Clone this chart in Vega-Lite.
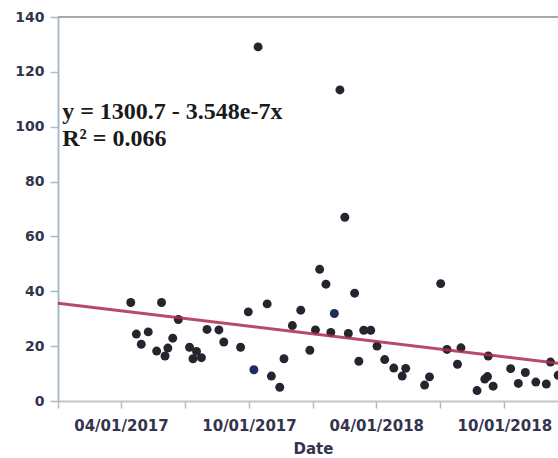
{
  "$schema": "https://vega.github.io/schema/vega-lite/v6.json",
  "width": 510,
  "height": 384,
  "autosize": "none",
  "padding": {"left": 58, "top": 17, "right": 0, "bottom": 57},
  "background": "white",
  "config": {
    "view": {"stroke": null},
    "axis": {"grid": false}
  },
  "datasets": {
    "points": [
      {"date": "2017-04-15", "value": 35.9, "group": "A"},
      {"date": "2017-04-23", "value": 24.4, "group": "A"},
      {"date": "2017-04-30", "value": 20.7, "group": "A"},
      {"date": "2017-05-10", "value": 25.2, "group": "A"},
      {"date": "2017-05-22", "value": 18.2, "group": "A"},
      {"date": "2017-05-29", "value": 35.9, "group": "A"},
      {"date": "2017-06-03", "value": 16.4, "group": "A"},
      {"date": "2017-06-07", "value": 19.3, "group": "A"},
      {"date": "2017-06-14", "value": 22.9, "group": "A"},
      {"date": "2017-06-22", "value": 29.7, "group": "A"},
      {"date": "2017-07-08", "value": 19.6, "group": "A"},
      {"date": "2017-07-13", "value": 15.4, "group": "A"},
      {"date": "2017-07-18", "value": 18.1, "group": "A"},
      {"date": "2017-07-25", "value": 15.8, "group": "A"},
      {"date": "2017-08-02", "value": 26.1, "group": "A"},
      {"date": "2017-08-19", "value": 25.9, "group": "A"},
      {"date": "2017-08-26", "value": 21.5, "group": "A"},
      {"date": "2017-09-19", "value": 19.6, "group": "A"},
      {"date": "2017-09-30", "value": 32.5, "group": "A"},
      {"date": "2017-10-08", "value": 11.4, "group": "B"},
      {"date": "2017-10-14", "value": 129.1, "group": "A"},
      {"date": "2017-10-27", "value": 35.4, "group": "A"},
      {"date": "2017-11-02", "value": 9.1, "group": "A"},
      {"date": "2017-11-14", "value": 5.0, "group": "A"},
      {"date": "2017-11-20", "value": 15.4, "group": "A"},
      {"date": "2017-12-02", "value": 27.5, "group": "A"},
      {"date": "2017-12-14", "value": 33.1, "group": "A"},
      {"date": "2017-12-27", "value": 18.5, "group": "A"},
      {"date": "2018-01-04", "value": 25.9, "group": "A"},
      {"date": "2018-01-10", "value": 48.0, "group": "A"},
      {"date": "2018-01-19", "value": 42.6, "group": "A"},
      {"date": "2018-01-26", "value": 25.0, "group": "A"},
      {"date": "2018-01-31", "value": 31.9, "group": "B"},
      {"date": "2018-02-08", "value": 113.4, "group": "A"},
      {"date": "2018-02-15", "value": 67.0, "group": "A"},
      {"date": "2018-02-20", "value": 24.6, "group": "A"},
      {"date": "2018-03-01", "value": 39.3, "group": "A"},
      {"date": "2018-03-07", "value": 14.5, "group": "A"},
      {"date": "2018-03-14", "value": 25.8, "group": "A"},
      {"date": "2018-03-24", "value": 25.8, "group": "A"},
      {"date": "2018-04-02", "value": 20.0, "group": "A"},
      {"date": "2018-04-13", "value": 15.1, "group": "A"},
      {"date": "2018-04-26", "value": 12.0, "group": "A"},
      {"date": "2018-05-08", "value": 9.1, "group": "A"},
      {"date": "2018-05-13", "value": 11.9, "group": "A"},
      {"date": "2018-06-09", "value": 5.8, "group": "A"},
      {"date": "2018-06-16", "value": 8.8, "group": "A"},
      {"date": "2018-07-02", "value": 42.8, "group": "A"},
      {"date": "2018-07-11", "value": 18.8, "group": "A"},
      {"date": "2018-07-26", "value": 13.4, "group": "A"},
      {"date": "2018-07-31", "value": 19.4, "group": "A"},
      {"date": "2018-08-23", "value": 3.8, "group": "A"},
      {"date": "2018-09-03", "value": 8.0, "group": "A"},
      {"date": "2018-09-07", "value": 8.9, "group": "A"},
      {"date": "2018-09-08", "value": 16.4, "group": "A"},
      {"date": "2018-09-15", "value": 5.4, "group": "A"},
      {"date": "2018-10-10", "value": 11.8, "group": "A"},
      {"date": "2018-10-21", "value": 6.4, "group": "A"},
      {"date": "2018-10-31", "value": 10.4, "group": "A"},
      {"date": "2018-11-15", "value": 6.9, "group": "A"},
      {"date": "2018-11-30", "value": 6.2, "group": "A"},
      {"date": "2018-12-06", "value": 14.2, "group": "A"},
      {"date": "2018-12-17", "value": 9.4, "group": "A"}
    ],
    "fit": [
      {"date": "2017-01-01", "value": 35.6},
      {"date": "2018-12-31", "value": 13.3}
    ],
    "labels": [
      {"date": "2017-01-07", "value": 102.8, "label": "y = 1300.7 - 3.548e-7x"},
      {"date": "2017-01-07", "value": 92.8, "label": "R² = 0.066"}
    ],
    "top": [{"value": 140}]
  },
  "encoding": {
    "x": {
      "field": "date",
      "type": "temporal",
      "scale": {"domain": [{"year": 2017, "month": 1, "date": 1}, {"year": 2018, "month": 12, "date": 31}]},
      "axis": {
        "title": "Date",
        "values": [
          {"year": 2017, "month": 1, "date": 1},
          {"year": 2017, "month": 4, "date": 1},
          {"year": 2017, "month": 7, "date": 1},
          {"year": 2017, "month": 10, "date": 1},
          {"year": 2018, "month": 1, "date": 1},
          {"year": 2018, "month": 4, "date": 1},
          {"year": 2018, "month": 7, "date": 1},
          {"year": 2018, "month": 10, "date": 1}
        ],
        "labelExpr": "month(datum.value) % 6 == 3 ? timeFormat(datum.value, '%m/%d/%Y') : ''",
        "labelFont": "DejaVu Sans",
        "labelFontWeight": "bold",
        "labelFontSize": 15,
        "labelColor": "#34344e",
        "labelPadding": 10,
        "labelOverlap": false,
        "labelFlush": false,
        "tickSize": 7,
        "tickColor": "#b8b8b8",
        "tickWidth": 1.5,
        "domainColor": "#c4c4c4",
        "domainWidth": 2,
        "titleFont": "DejaVu Sans",
        "titleFontWeight": "bold",
        "titleFontSize": 15,
        "titleColor": "#34344e",
        "titlePadding": 8
      }
    },
    "y": {
      "field": "value",
      "type": "quantitative",
      "scale": {"domain": [0, 140], "nice": false, "zero": true},
      "axis": {
        "title": null,
        "values": [0, 20, 40, 60, 80, 100, 120, 140],
        "labelFont": "DejaVu Sans",
        "labelFontWeight": "bold",
        "labelFontSize": 14,
        "labelColor": "#34344e",
        "labelPadding": 6,
        "tickSize": 8,
        "tickColor": "#b0b8c4",
        "tickWidth": 1.5,
        "domainColor": "#a9b9cb",
        "domainWidth": 2
      }
    }
  },
  "layer": [
    {
      "data": {"name": "top"},
      "mark": {"type": "rule", "color": "#a8a8a8", "strokeWidth": 2},
      "encoding": {"y": {"field": "value", "type": "quantitative"}, "x": null}
    },
    {
      "data": {"name": "points", "format": {"parse": {"date": "date:'%Y-%m-%d'"}}},
      "mark": {"type": "circle", "size": 80, "opacity": 1},
      "encoding": {
        "color": {
          "field": "group",
          "type": "nominal",
          "scale": {"domain": ["A", "B"], "range": ["#25252f", "#1f2d5a"]},
          "legend": null
        }
      }
    },
    {
      "data": {"name": "fit", "format": {"parse": {"date": "date:'%Y-%m-%d'"}}},
      "mark": {"type": "line", "color": "#a82a50", "strokeWidth": 3, "opacity": 0.85}
    },
    {
      "data": {"name": "labels", "format": {"parse": {"date": "date:'%Y-%m-%d'"}}},
      "mark": {
        "type": "text",
        "align": "left",
        "baseline": "alphabetic",
        "font": "Liberation Serif",
        "fontSize": 24,
        "fontWeight": "bold",
        "color": "#1a1a1a"
      },
      "encoding": {"text": {"field": "label", "type": "nominal"}}
    }
  ]
}
